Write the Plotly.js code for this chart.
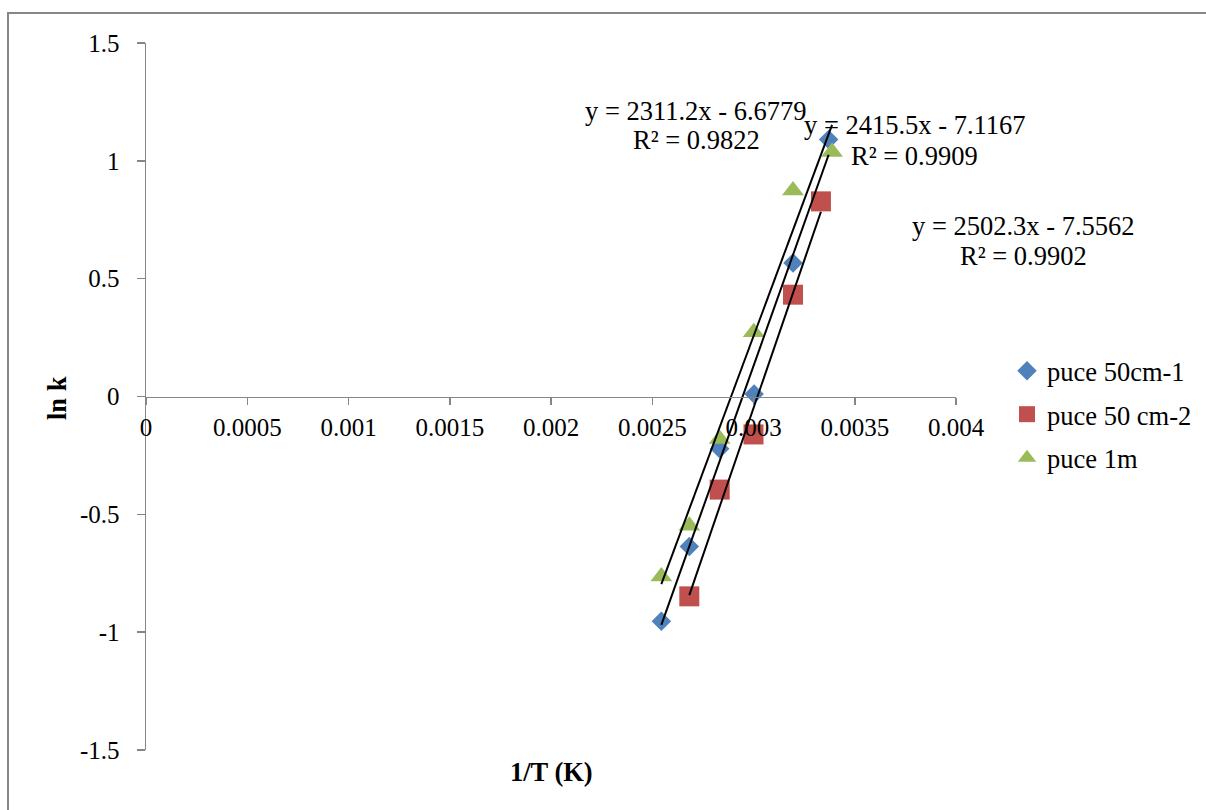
<!DOCTYPE html>
<html>
<head>
<meta charset="utf-8">
<script src="https://cdn.plot.ly/plotly-3.0.1.min.js"></script>
<style>
html,body{margin:0;padding:0;background:#fff;overflow:hidden;}
#chart{width:1206px;height:810px;}
</style>
</head>
<body>
<div id="chart"></div>
<script>
// ---- data ----
var seriesNames = ["puce 50cm-1", "puce 50 cm-2", "puce 1m"];
var blueX  = [0.002545, 0.002683, 0.002833, 0.003003, 0.003195, 0.003371];
var blueY  = [-0.954, -0.637, -0.222, 0.011, 0.567, 1.090];
var redX   = [0.002683, 0.002833, 0.003000, 0.003195, 0.003333];
var redY   = [-0.848, -0.395, -0.161, 0.432, 0.828];
var greenX = [0.002545, 0.002683, 0.002833, 0.003001, 0.003195, 0.003388];
var greenY = [-0.764, -0.548, -0.180, 0.273, 0.874, 1.037];
// trendline coefficients (blue, red, green)
var slopes     = [2415.5, 2502.3, 2311.2];
var intercepts = [-7.1167, -7.5562, -6.6779];
var r2         = ["0.9909", "0.9902", "0.9822"];
var xTickVals  = [0, 0.0005, 0.001, 0.0015, 0.002, 0.0025, 0.003, 0.0035, 0.004];
var xTickText  = ["0", "0.0005", "0.001", "0.0015", "0.002", "0.0025", "0.003", "0.0035", "0.004"];
var yTickVals  = [-1.5, -1, -0.5, 0, 0.5, 1, 1.5];
var yTickText  = ["-1.5", "-1", "-0.5", "0", "0.5", "1", "1.5"];

var FONT = "'Liberation Serif', 'Times New Roman', serif";
var FS = 25;     // tick labels
var FL = 26.5;   // labels, legend, titles
var colors = ["#4F81BD", "#C0504D", "#9BBB59"];
var symbols = ["diamond", "square", "triangle-up"];
var sizes = [15, 20, 19];
var xs = [blueX, redX, greenX];
var ys = [blueY, redY, greenY];

var traces = [];
for (var i = 0; i < 3; i++) {
  traces.push({
    x: xs[i], y: ys[i], type: "scatter", mode: "markers", name: seriesNames[i],
    legendgroup: "g" + i,
    marker: {symbol: symbols[i], size: sizes[i], color: colors[i], line: {width: 0}},
    cliponaxis: false
  });
}
for (var j = 0; j < 3; j++) {
  var xmin = Math.min.apply(null, xs[j]);
  var xmax = Math.max.apply(null, xs[j]);
  traces.push({
    x: [xmin, xmax],
    y: [slopes[j] * xmin + intercepts[j], slopes[j] * xmax + intercepts[j]],
    type: "scatter", mode: "lines", showlegend: false, hoverinfo: "skip",
    line: {color: "#000", width: 2},
    cliponaxis: false
  });
}

function fmtEq(k) {
  return "y = " + slopes[k].toFixed(1) + "x - " + Math.abs(intercepts[k]).toFixed(4);
}

// pixel helpers -> paper coords (plot area 146..956 x, 43..750 y)
function px(v) { return (v - 146) / 810; }
function py(v) { return (750 - v) / 707; }

// label positions (green, blue, red order of appearance)
var labelOrder = [2, 0, 1];
var labelEqPos = [[696, 111], [915, 125], [1023, 226]];
var labelR2Pos = [[696, 140], [914, 156], [1023, 256]];

var annotations = [];
for (var a = 0; a < 3; a++) {
  var k = labelOrder[a];
  annotations.push({
    xref: "paper", yref: "paper", x: px(labelEqPos[a][0]), y: py(labelEqPos[a][1]),
    text: fmtEq(k), showarrow: false, xanchor: "center", yanchor: "middle",
    font: {family: FONT, size: FL, color: "#000"}
  });
  annotations.push({
    xref: "paper", yref: "paper", x: px(labelR2Pos[a][0]), y: py(labelR2Pos[a][1]),
    text: "R² = " + r2[k], showarrow: false, xanchor: "center", yanchor: "middle",
    font: {family: FONT, size: FL, color: "#000"}
  });
}
annotations.push({
  xref: "paper", yref: "paper", x: px(551), y: py(772),
  text: "<b>1/T (K)</b>", showarrow: false, xanchor: "center", yanchor: "middle",
  font: {family: FONT, size: FL, color: "#000"}
});
annotations.push({
  xref: "paper", yref: "paper", x: px(57), y: py(398),
  text: "<b>ln k</b>", showarrow: false, textangle: -90, xanchor: "center", yanchor: "middle",
  font: {family: FONT, size: FL, color: "#000"}
});

var layout = {
  width: 1206, height: 810,
  margin: {l: 146, r: 250, t: 43, b: 60, pad: 0, autoexpand: false},
  paper_bgcolor: "#fff", plot_bgcolor: "rgba(0,0,0,0)",
  font: {family: FONT, size: FS, color: "#000"},
  showlegend: true,
  legend: {
    x: px(1007), y: py(347), xanchor: "left", yanchor: "top",
    font: {family: FONT, size: FL, color: "#000"},
    traceorder: "grouped", tracegroupgap: 6,
    bgcolor: "rgba(0,0,0,0)", borderwidth: 0, itemwidth: 30
  },
  xaxis: {
    range: [0, 0.004], tickvals: xTickVals, ticktext: xTickText,
    showgrid: false, zeroline: false, showline: true,
    linecolor: "#868686", linewidth: 1.5,
    ticks: "outside", ticklen: 7, tickwidth: 1.5, tickcolor: "#868686",
    anchor: "free", position: 0.5, ticklabelstandoff: 1,
    tickfont: {family: FONT, size: FS, color: "#000"}
  },
  yaxis: {
    range: [-1.5, 1.5], tickvals: yTickVals, ticktext: yTickText,
    showgrid: false, zeroline: false, showline: true,
    linecolor: "#868686", linewidth: 1.5,
    ticks: "outside", ticklen: 8, tickwidth: 1.5, tickcolor: "#868686",
    ticklabelstandoff: 12,
    tickfont: {family: FONT, size: FS, color: "#000"}
  },
  annotations: annotations,
  shapes: [{
    type: "rect", xref: "paper", yref: "paper",
    x0: px(8), x1: 2, y0: -1, y1: py(13),
    line: {color: "#878787", width: 2}, fillcolor: "rgba(0,0,0,0)", layer: "below"
  }]
};

Plotly.newPlot("chart", traces, layout, {staticPlot: true, displayModeBar: false});
</script>
</body>
</html>
